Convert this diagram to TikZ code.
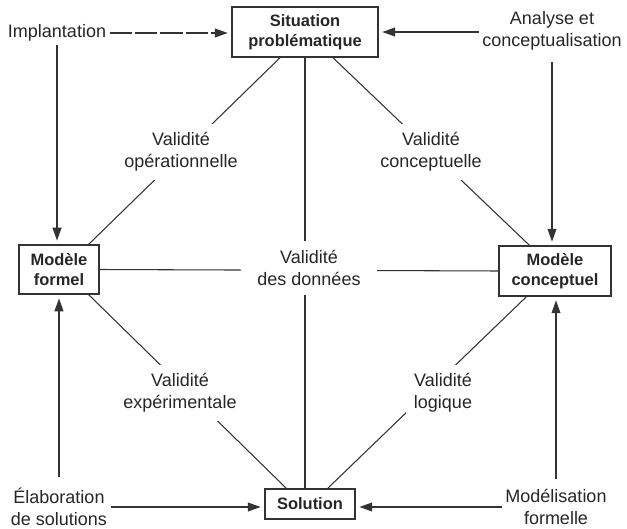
\documentclass[tikz,border=0pt]{standalone}
\usepackage{fontspec}
\setmainfont{Liberation Sans}
\usepackage{tikz}
\usetikzlibrary{arrows.meta,calc}
\definecolor{inkgray}{HTML}{333333}

\begin{document}
\begin{tikzpicture}[x=0.85pt,y=-0.85pt,
  box/.style={draw=inkgray,line width=1.3pt,align=center,text=black!85,
    inner sep=0pt,font=\fontsize{14}{17}\selectfont\bfseries},
  lbl/.style={align=center,text=black!85,inner sep=3pt,
    font=\fontsize{15.3}{18.5}\selectfont},
  valid/.style={lbl,fill=white,inner sep=7pt},
  link/.style={draw=inkgray,line width=0.9pt},
  arr/.style={link,line width=1.2pt,shorten >=3pt,
    -{Triangle[length=11pt,width=7.5pt]}}]
  \useasboundingbox (0,0) rectangle (627,529);

  % Boxes
  \node[box,minimum width=124pt,minimum height=42.5pt] (sit) at (305,32) {Situation\\probl\'ematique};
  \node[box,minimum width=68pt,minimum height=41.7pt] (formel) at (59,269.5) {Mod\`ele\\formel};
  \node[box,minimum width=95pt,minimum height=42.5pt] (concept) at (555,271) {Mod\`ele\\conceptuel};
  \node[box,minimum width=76.5pt,minimum height=25.5pt] (sol) at (310,504) {Solution};

  % Processes around the square
  \node[lbl] (impl) at (57,33) {Implantation};
  \node[lbl] (ana) at (552,31) {Analyse et\\conceptualisation};
  \node[lbl] (elab) at (59,507) {\'Elaboration\\de solutions};
  \node[lbl] (modf) at (556,507) {Mod\'elisation\\formelle};

  \draw[arr,dash pattern=on 19pt off 2.5pt] (impl.east) -- (impl.east -| sit.west);
  \draw[arr] (ana.west |- sit.east) -- (sit.east);
  \draw[arr] (elab.east) -- (elab.east -| sol.west);
  \draw[arr] (modf.west) -- (modf.west -| sol.east);
  \draw[arr] (impl.south) -- (impl.south |- formel.north);
  \draw[arr,shorten <=7pt] (ana.south) -- (ana.south |- concept.north);
  \draw[arr,shorten <=6pt] (elab.north) -- (elab.north |- formel.south);
  \draw[arr,shorten <=6pt] (modf.north) -- (modf.north |- concept.south);

  % Validity links
  \draw[link] ($(sit.south)+(-25,0)$) -- ($(formel.north east)+(-11,0)$);
  \draw[link] ($(sit.south)+(28,0)$) -- ($(concept.north west)+(31,0)$);
  \draw[link] ($(formel.south east)+(-11,0)$) -- ($(sol.north west)+(22,0)$);
  \draw[link] ($(concept.south west)+(28,0)$) -- ($(sol.north east)+(-28,0)$);
  \draw[link] (formel.east) -- (concept.west);
  \draw[link] (sit.south) -- (sit.south |- sol.north);

  \node[valid] (opv) at (181,152) {Validit\'e\\op\'erationnelle};
  \node[valid] (conv) at (431,152) {Validit\'e\\conceptuelle};
  \node[valid,inner xsep=14pt,inner ysep=8pt] (datav) at (309,268) {Validit\'e\\des donn\'ees};
  \node[valid] (expv) at (180,393) {Validit\'e\\exp\'erimentale};
  \node[valid] (logv) at (443,393) {Validit\'e\\logique};
\end{tikzpicture}
\end{document}
